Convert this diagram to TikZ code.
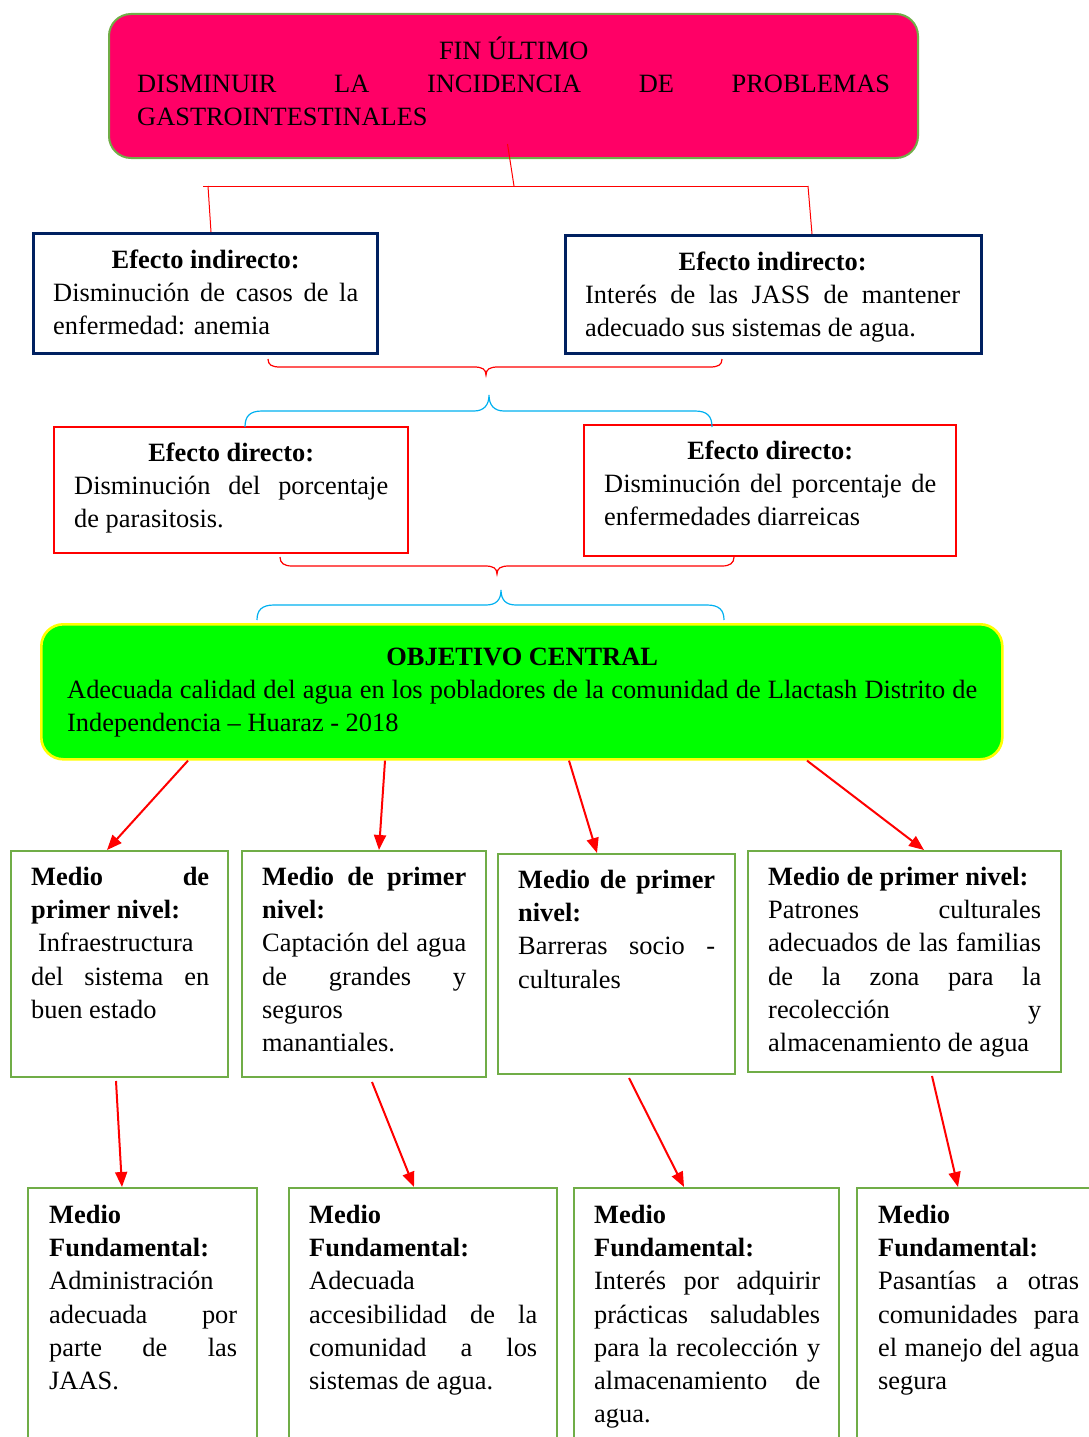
\documentclass[tikz,border=0pt]{standalone}
\usepackage{fontspec}
\setmainfont{Liberation Serif}
\usetikzlibrary{arrows.meta,calc}
\setlength{\parindent}{0pt}
\hyphenpenalty=10000
\exhyphenpenalty=10000
\tolerance=10000
\hbadness=10000
\definecolor{rosa}{HTML}{FF0066}
\definecolor{verdeborde}{HTML}{70AD47}
\definecolor{azuloscuro}{HTML}{002060}
\definecolor{celeste}{HTML}{00B0F0}
\definecolor{verdefuerte}{HTML}{00FF00}
\definecolor{amarillo}{HTML}{FFFF00}
\newcommand\centrado[1]{{\centering\strut#1\par}}
\tikzset{
  caja/.style={draw, anchor=north west, inner sep=0pt},
  fincaja/.style={caja, fill=rosa, draw=verdeborde, line width=2pt, rounded corners=22pt},
  indcaja/.style={caja, draw=azuloscuro, line width=2.6pt},
  dircaja/.style={caja, draw=red, line width=2.4pt},
  objcaja/.style={caja, fill=verdefuerte, draw=amarillo, line width=2.6pt, rounded corners=22pt},
  mediocaja/.style={caja, draw=verdeborde, line width=2pt},
  texto/.style={anchor=north west, inner sep=0pt, align=justify, font=\fontsize{26.4pt}{33.2pt}\selectfont},
  flecha/.style={red, line width=2pt, -{Triangle[length=15pt,width=12pt]}},
  linea/.style={red, line width=1pt},
  llaveroja/.style={red, line width=1.2pt},
  llaveazul/.style={celeste, line width=1.2pt}
}
\begin{document}
\begin{tikzpicture}[x=1pt, y=-1pt]
\useasboundingbox (0,0) rectangle (1089,1437);

% fin ultimo
\node[fincaja, minimum width=809pt, minimum height=144pt] (fin) at (108,13) {};
\node[texto, text width=753pt] (fin-t) at (137,36) {\centrado{FIN ÚLTIMO}DISMINUIR LA INCIDENCIA DE PROBLEMAS\linebreak GASTROINTESTINALES};

% efectos indirectos
\node[indcaja, minimum width=344pt, minimum height=120pt] (ei1) at (32,232) {};
\node[texto, text width=305pt] (ei1-t) at (53,245) {\centrado{\bfseries Efecto indirecto:}Disminución de casos de la\linebreak enfermedad: anemia};
\node[indcaja, minimum width=416pt, minimum height=118pt] (ei2) at (564,234) {};
\node[texto, text width=375pt] (ei2-t) at (585,247) {\centrado{\bfseries Efecto indirecto:}Interés de las JASS de mantener\linebreak adecuado sus sistemas de agua.};

% efectos directos
\node[dircaja, minimum width=354pt, minimum height=126pt] (ed1) at (53,426) {};
\node[texto, text width=314pt] (ed1-t) at (74,438) {\centrado{\bfseries Efecto directo:}Disminución del porcentaje\linebreak de parasitosis.};
\node[dircaja, minimum width=372pt, minimum height=131pt] (ed2) at (583,424) {};
\node[texto, text width=332pt] (ed2-t) at (604,436) {\centrado{\bfseries Efecto directo:}Disminución del porcentaje de\linebreak enfermedades diarreicas};

% objetivo central
\node[objcaja, minimum width=961pt, minimum height=135pt] (obj) at (40,623) {};
\node[texto, text width=910pt] (obj-t) at (67,642) {\centrado{\bfseries OBJETIVO CENTRAL}Adecuada calidad del agua en los pobladores de la comunidad de Llactash Distrito de\linebreak Independencia – Huaraz - 2018};

% medios de primer nivel
\node[mediocaja, minimum width=217pt, minimum height=226pt] (m1) at (10,850) {};
\node[texto, text width=178pt] (m1-t) at (31,862) {\strut{\bfseries Medio de\linebreak primer nivel:}\\\hspace*{7pt}Infraestructura\\del sistema en\linebreak buen estado};
\node[mediocaja, minimum width=244pt, minimum height=226pt] (m2) at (241,850) {};
\node[texto, text width=204pt] (m2-t) at (262,862) {\strut{\bfseries Medio de primer\linebreak nivel:}\\Captación del agua\linebreak de grandes y\linebreak seguros\\manantiales.};
\node[mediocaja, minimum width=237pt, minimum height=220pt] (m3) at (497,853) {};
\node[texto, text width=197pt] (m3-t) at (518,865) {\strut{\bfseries Medio de primer\linebreak nivel:}\\Barreras socio -\linebreak culturales};
\node[mediocaja, minimum width=313pt, minimum height=221pt] (m4) at (747,850) {};
\node[texto, text width=273pt] (m4-t) at (768,862) {\strut{\bfseries Medio de primer nivel:}\\Patrones culturales\linebreak adecuados de las familias\linebreak de la zona para la\linebreak recolección y\linebreak almacenamiento de agua};

% medios fundamentales
\node[mediocaja, minimum width=229pt, minimum height=300pt] (f1) at (27,1187) {};
\node[texto, text width=188pt] (f1-t) at (49,1200) {\strut{\bfseries Medio\\Fundamental:}\\Administración\\adecuada por\linebreak parte de las\linebreak JAAS.};
\node[mediocaja, minimum width=268pt, minimum height=300pt] (f2) at (288,1187) {};
\node[texto, text width=228pt] (f2-t) at (309,1200) {\strut{\bfseries Medio\\Fundamental:}\\Adecuada\\accesibilidad de la\linebreak comunidad a los\linebreak sistemas de agua.};
\node[mediocaja, minimum width=265pt, minimum height=300pt] (f3) at (573,1187) {};
\node[texto, text width=226pt] (f3-t) at (594,1200) {\strut{\bfseries Medio\\Fundamental:}\\Interés por adquirir\linebreak prácticas saludables\linebreak para la recolección y\linebreak almacenamiento de\linebreak agua.};
\node[mediocaja, minimum width=300pt, minimum height=300pt] (f4) at (856,1187) {};
\node[texto, text width=201pt] (f4-t) at (878,1200) {\strut{\bfseries Medio\\Fundamental:}\\Pasantías a otras\linebreak comunidades para\linebreak el manejo del agua\linebreak segura};

% lineas del arbol
\coordinate (jl) at (203,186);
\coordinate (jr) at (808,186);
\coordinate (jc) at (514,186);
\draw[linea] ([xshift=-6pt,yshift=15pt]fin.south) -- (jc);
\draw[linea] (jl) -- (jr);
\draw[linea] ([xshift=5pt]jl) -- ([xshift=179pt]ei1.north west);
\draw[linea] (jr) -- ([xshift=248pt]ei2.north west);

% llaves
\draw[llaveroja] (268,359) .. controls (268,365) and (272,367) .. (280,367) -- (474,367) .. controls (482,367) and (486,369) .. (486,375) .. controls (486,369) and (490,367) .. (498,367) -- (710,367) .. controls (718,367) and (722,365) .. (722,359);
\draw[llaveazul] (245,427) .. controls (245,416) and (250,411) .. (262,411) -- (474,411) .. controls (484,411) and (489,405) .. (489,395) .. controls (489,405) and (494,411) .. (504,411) -- (695,411) .. controls (707,411) and (712,416) .. (712,427);
\draw[llaveroja] (280,557) .. controls (280,563) and (284,566) .. (292,566) -- (485,566) .. controls (493,566) and (497,568) .. (497,574) .. controls (497,568) and (501,566) .. (509,566) -- (722,566) .. controls (730,566) and (734,563) .. (734,557);
\draw[llaveazul] (257,620) .. controls (257,610) and (262,605) .. (274,605) -- (486,605) .. controls (496,605) and (501,600) .. (501,590) .. controls (501,600) and (506,605) .. (516,605) -- (707,605) .. controls (719,605) and (724,610) .. (724,620);

% flechas
\draw[flecha] ([xshift=148pt]obj.south west) -- ([xshift=97pt]m1.north west);
\draw[flecha] ([xshift=345pt]obj.south west) -- ([xshift=138pt]m2.north west);
\draw[flecha] ([xshift=529pt]obj.south west) -- ([xshift=100pt]m3.north west);
\draw[flecha] ([xshift=767pt]obj.south west) -- ([xshift=177pt]m4.north west);
\draw[flecha] ([xshift=106pt,yshift=-3pt]m1.south west) -- ([xshift=95pt]f1.north west);
\draw[flecha] ([xshift=131pt,yshift=-4pt]m2.south west) -- ([xshift=126pt]f2.north west);
\draw[flecha] ([xshift=132pt,yshift=-3pt]m3.south west) -- ([xshift=111pt]f3.north west);
\draw[flecha] ([xshift=185pt,yshift=-3pt]m4.south west) -- ([xshift=102pt]f4.north west);
\end{tikzpicture}
\end{document}
